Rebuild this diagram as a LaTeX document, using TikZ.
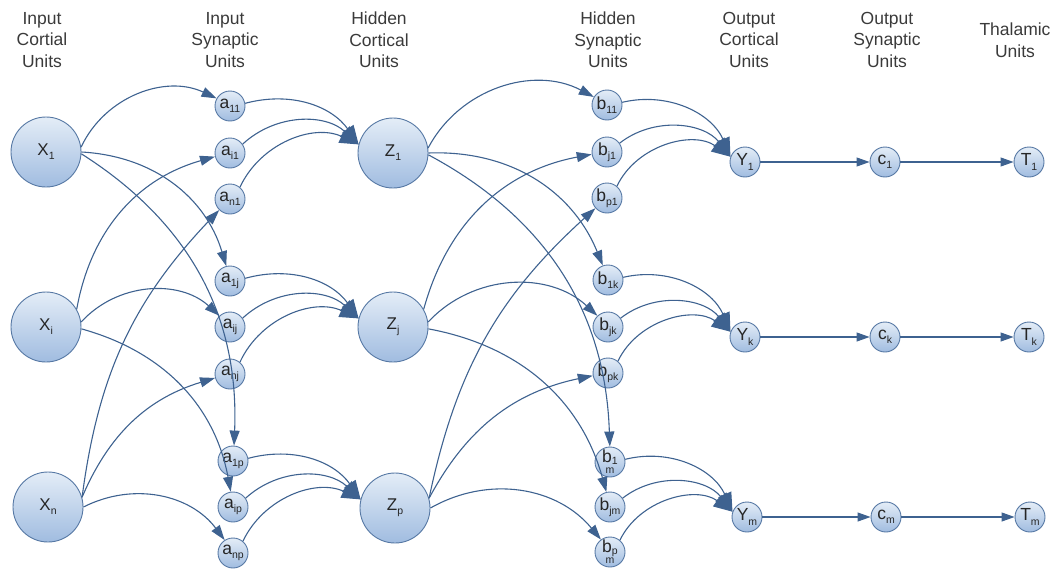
\documentclass[tikz,border=0pt]{standalone}
\usepackage{fontspec}
\setmainfont{Liberation Sans}
\usetikzlibrary{arrows.meta}
\definecolor{edgeblue}{RGB}{62,98,144}
\definecolor{ringblue}{RGB}{86,120,164}
\definecolor{fillhi}{RGB}{228,237,247}
\definecolor{filllo}{RGB}{160,188,224}
\definecolor{headgray}{RGB}{58,58,58}
% lowered small index used in every unit label
\newcommand\lo[1]{\raisebox{-0.45ex}{\fontsize{10.5}{10.5}\selectfont #1}}
% second line of a wrapped index
\newcommand\wrapidx[1]{{\fontsize{10.5}{10.5}\selectfont #1}}

\begin{document}
\begin{tikzpicture}[x=1pt,y=1pt,
  unit/.style={circle, draw=ringblue, line width=0.9pt, top color=fillhi,
    bottom color=filllo, inner sep=0pt, text=black!85},
  big/.style={unit, minimum size=70pt, font=\fontsize{17}{17}\selectfont},
  small/.style={unit, minimum size=30pt, font=\fontsize{17.5}{17}\selectfont},
  wrapped/.style={small, align=center, font=\fontsize{17.5}{11}\selectfont},
  head/.style={align=center, text=headgray, font=\fontsize{17.5}{21.5}\selectfont,
    anchor=north, inner sep=0pt},
  link/.style={draw=edgeblue, line width=1.1pt,
    -{Triangle[length=15pt,width=10pt]}},
  conv/.style={link, -{Triangle[length=19pt,width=14pt]}},
  straight/.style={draw=edgeblue, line width=1.1pt,
    -{Triangle[length=13pt,width=9pt]}},
]
\useasboundingbox (0,0) rectangle (1054,-570);

% column headings
\node[head] (h1) at (42,-12) {Input\\Cortial\\Units};
\node[head] (h2) at (225,-12) {Input\\Synaptic\\Units};
\node[head] (h3) at (379,-12) {Hidden\\Cortical\\Units};
\node[head] (h4) at (608,-12) {Hidden\\Synaptic\\Units};
\node[head] (h5) at (749,-12) {Output\\Cortical\\Units};
\node[head] (h6) at (887,-12) {Output\\Synaptic\\Units};
\node[head] (h7) at (1015,-23) {Thalamic\\Units};

% input cortical units
\node[big] (x1) at (46,-152) {X\lo{1}};
\node[big] (xi) at (46,-327) {X\lo{i}};
\node[big] (xn) at (48,-507) {X\lo{n}};

% input synaptic units
\node[small] (a11) at (230,-106) {a\lo{11}};
\node[small] (ai1) at (230,-153) {a\lo{i1}};
\node[small] (an1) at (230,-199) {a\lo{n1}};
\node[small] (a1j) at (230,-281) {a\lo{1j}};
\node[small] (aij) at (230,-327) {a\lo{ij}};
\node[small] (anj) at (230,-374) {a\lo{nj}};
\node[small] (a1p) at (233,-461) {a\lo{1p}};
\node[small] (aip) at (233,-507) {a\lo{ip}};
\node[small] (anp) at (233,-553) {a\lo{np}};

% hidden cortical units
\node[big] (z1) at (393,-153) {Z\lo{1}};
\node[big] (zj) at (393,-327) {Z\lo{j}};
\node[big] (zp) at (395,-508) {Z\lo{p}};

% hidden synaptic units
\node[small] (b11) at (607,-105) {b\lo{11}};
\node[small] (bj1) at (607,-152) {b\lo{j1}};
\node[small] (bp1) at (607,-198) {b\lo{p1}};
\node[small] (b1k) at (608,-280) {b\lo{1k}};
\node[small] (bjk) at (608,-327) {b\lo{jk}};
\node[small] (bpk) at (608,-373) {b\lo{pk}};
\node[wrapped] (b1m) at (610,-462) {b\raisebox{-0.2ex}{\fontsize{10.5}{10.5}\selectfont 1}\\\wrapidx{m}};
\node[small] (bjm) at (610,-507) {b\lo{jm}};
\node[wrapped] (bpm) at (610,-552) {b\raisebox{-0.2ex}{\fontsize{10.5}{10.5}\selectfont p}\\\wrapidx{m}};

% output cortical, output synaptic and thalamic units
\node[small] (y1) at (745,-162) {Y\lo{1}};
\node[small] (yk) at (745,-337) {Y\lo{k}};
\node[small] (ym) at (747,-517) {Y\lo{m}};
\node[small] (c1) at (885,-162) {c\lo{1}};
\node[small] (ck) at (885,-337) {c\lo{k}};
\node[small] (cm) at (886,-517) {c\lo{m}};
\node[small] (t1) at (1029,-162) {T\lo{1}};
\node[small] (tk) at (1029,-337) {T\lo{k}};
\node[small] (tm) at (1030,-517) {T\lo{m}};

% cortical to synaptic projections: source/exit angle/target/bend
\foreach \s/\e/\t/\b in {x1/8/a11/45, x1/0/a1j/35, x1/-3/a1p/30,
                         xi/30/ai1/32, xi/8/aij/45, xi/-3/aip/32,
                         xn/16/an1/18, xn/16/anj/25, xn/0/anp/40,
                         z1/8/b11/45, z1/0/b1k/35, z1/-3/b1m/30,
                         zj/30/bj1/32, zj/8/bjk/45, zj/-3/bjm/32,
                         zp/16/bp1/18, zp/16/bpk/25, zp/0/bpm/40}
  \draw[link] (\s.\e) to[bend left=\b] (\t);

% synaptic units converging on the next cortical layer
\foreach \s/\e/\t/\b in {a11/10/z1/35, ai1/35/z1/43, an1/50/z1/45,
                         a1j/10/zj/35, aij/35/zj/43, anj/50/zj/45,
                         a1p/10/zp/35, aip/35/zp/43, anp/50/zp/45}
  \draw[conv] (\s.\e) to[bend left=\b] (\t.166);
\foreach \s/\e/\t/\b in {b11/10/y1/40, bj1/35/y1/45, bp1/50/y1/50,
                         b1k/10/yk/40, bjk/35/yk/45, bpk/50/yk/50,
                         b1m/10/ym/40, bjm/35/ym/45, bpm/50/ym/50}
  \draw[conv] (\s.\e) to[bend left=\b] (\t.160);

% output chain
\foreach \s/\t in {y1/c1, c1/t1, yk/ck, ck/tk, ym/cm, cm/tm}
  \draw[straight] (\s) -- (\t);
\end{tikzpicture}
\end{document}
